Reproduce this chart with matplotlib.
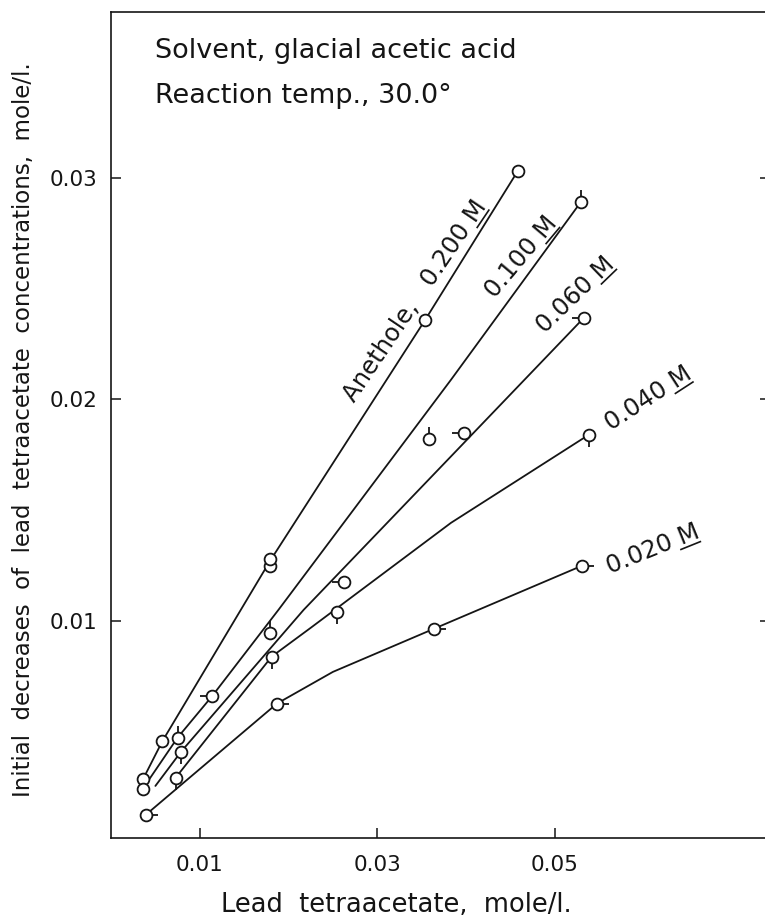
"""Initial decrease of lead tetraacetate vs its concentration, for several
anethole concentrations (glacial acetic acid, 30.0 deg)."""
import numpy as np
import matplotlib.pyplot as plt
from matplotlib.path import Path

plt.rcParams["font.family"] = ["DejaVu Sans"]

# anethole concentrations, one curve each
conc = ["0.200", "0.100", "0.060", "0.040", "0.020"]

# measured points (lead tetraacetate, initial decrease), mole/l.
pts_x_200 = [0.0036, 0.0058, 0.0179, 0.0179, 0.0354, 0.0458]
pts_y_200 = [0.00285, 0.00458, 0.0125, 0.0128, 0.0236, 0.0303]
pts_x_100 = [0.0036, 0.0075, 0.0179, 0.0358, 0.0529]
pts_y_100 = [0.00243, 0.00473, 0.00947, 0.0182, 0.0289]
pts_x_060 = [0.0114, 0.0263, 0.0398, 0.0533]
pts_y_060 = [0.00661, 0.01175, 0.0185, 0.0237]
pts_x_040 = [0.0073, 0.0079, 0.0181, 0.0255, 0.0538]
pts_y_040 = [0.00293, 0.0041, 0.00839, 0.0104, 0.0184]
pts_x_020 = [0.0039, 0.0187, 0.0364, 0.0531]
pts_y_020 = [0.00124, 0.00627, 0.00965, 0.0125]

# hand-drawn curves
crv_x_200 = [0.0036, 0.0058, 0.0179, 0.0354, 0.0458]
crv_y_200 = [0.00285, 0.00458, 0.0127, 0.0236, 0.0303]
crv_x_100 = [0.0038, 0.0075, 0.0114, 0.0189, 0.0383, 0.0529]
crv_y_100 = [0.00255, 0.00473, 0.00661, 0.01052, 0.02089, 0.0289]
crv_x_060 = [0.0050, 0.0079, 0.0217, 0.0383, 0.0533]
crv_y_060 = [0.00255, 0.0041, 0.0105, 0.01743, 0.0237]
crv_x_040 = [0.0073, 0.0181, 0.0225, 0.0383, 0.0538]
crv_y_040 = [0.00293, 0.00839, 0.00969, 0.01443, 0.0184]
crv_x_020 = [0.0039, 0.0187, 0.0250, 0.0364, 0.0531]
crv_y_020 = [0.00124, 0.00627, 0.0077, 0.00965, 0.0125]

pts = {
    "0.200": (pts_x_200, pts_y_200),
    "0.100": (pts_x_100, pts_y_100),
    "0.060": (pts_x_060, pts_y_060),
    "0.040": (pts_x_040, pts_y_040),
    "0.020": (pts_x_020, pts_y_020),
}
crv = {
    "0.200": (crv_x_200, crv_y_200),
    "0.100": (crv_x_100, crv_y_100),
    "0.060": (crv_x_060, crv_y_060),
    "0.040": (crv_x_040, crv_y_040),
    "0.020": (crv_x_020, crv_y_020),
}

# each series marks its circles with a small pip in one direction
pip_dir = {"0.200": None, "0.100": (0, 1), "0.060": (-1, 0),
           "0.040": (0, -1), "0.020": (1, 0)}

# curve labels: centre (x, y) and angle in degrees
lab_pos = {
    "0.200": (0.0341, 0.0245, 56),
    "0.100": (0.0461, 0.0265, 50),
    "0.060": (0.0522, 0.0248, 44),
    "0.040": (0.0604, 0.0201, 33),
    "0.020": (0.0610, 0.0133, 22),
}
LAB_FS = 17.5
ink = "#151515"


def pip_marker(d):
    dx, dy = d
    return Path([(0.48 * dx, 0.48 * dy), (dx, dy)], [Path.MOVETO, Path.LINETO])


fig = plt.figure(figsize=(7.65, 9.24), dpi=100)
ax = fig.add_axes([0.1451, 0.0931, 0.861, 0.894])
ax.set_xlim(0, 0.0742)
ax.set_ylim(0.0002, 0.0375)

for c in conc:
    cx, cy = crv[c]
    ax.plot(cx, cy, color=ink, lw=1.3, zorder=2, solid_capstyle="round")
    px, py = pts[c]
    ax.plot(px, py, ls="none", marker="o", ms=8.5, mfc="white", mec=ink,
            mew=1.3, zorder=4)
    if pip_dir[c] is not None:
        ax.plot(px, py, ls="none", marker=pip_marker(pip_dir[c]), ms=17,
                mfc="none", mec=ink, mew=1.3, zorder=3)


# rotated curve labels with an underlined M (molar)
renderer = fig.canvas.get_renderer()


def text_width(s, fs):
    t = ax.text(0, 0, s, fontsize=fs)
    w = t.get_window_extent(renderer).width
    t.remove()
    return w


to_data = ax.transData.inverted()
em = LAB_FS * fig.dpi / 72
for c in conc:
    lx, ly, ang = lab_pos[c]
    txt = f"{c} M" if c != "0.200" else f"Anethole,   {c} M"
    w_all = text_width(txt, LAB_FS)
    w_m = text_width("M", LAB_FS)
    a = np.deg2rad(ang)
    u = np.array([np.cos(a), np.sin(a)])
    n = np.array([-np.sin(a), np.cos(a)])
    ctr = ax.transData.transform((lx, ly))
    anchor = ctr - u * w_all / 2 - n * 0.36 * em
    ax.text(*to_data.transform(anchor), txt, rotation=ang,
            rotation_mode="anchor", ha="left", va="baseline",
            fontsize=LAB_FS, color=ink)
    p0 = anchor + u * (w_all - w_m - 0.1 * em) - n * 0.14 * em
    p1 = anchor + u * (w_all - 0.1 * em) - n * 0.14 * em
    seg = to_data.transform(np.array([p0, p1]))
    ax.plot(seg[:, 0], seg[:, 1], color=ink, lw=1.2)

ax.text(0.067, 0.944, "Solvent, glacial acetic acid", transform=ax.transAxes,
        fontsize=19.5, va="baseline", ha="left", color=ink)
ax.text(0.067, 0.890, "Reaction temp., 30.0\u00b0", transform=ax.transAxes,
        fontsize=19.5, va="baseline", ha="left", color=ink)

ax.set_xticks([0.01, 0.03, 0.05])
ax.set_xticklabels(["0.01", "0.03", "0.05"])
ax.set_yticks([0.01, 0.02, 0.03])
ax.set_yticklabels(["0.01", "0.02", "0.03"])
ax.tick_params(axis="x", direction="in", length=7, width=1.1, pad=12,
               labelsize=15.5, colors=ink)
ax.tick_params(axis="y", direction="in", length=7, width=1.1, pad=10,
               labelsize=15.5, colors=ink, right=True, labelright=False)
for s in ax.spines.values():
    s.set_linewidth(1.2)
    s.set_color(ink)

fig.text(396 / 765, 1 - 912 / 924, "Lead  tetraacetate,  mole/l.",
         ha="center", va="baseline", fontsize=18.5, color=ink)
fig.text(24 / 765, 1 - 430 / 924,
         "Initial  decreases  of  lead  tetraacetate  concentrations,  mole/l.",
         rotation=90, ha="center", va="center", fontsize=16.5, color=ink)

fig.savefig("out.png", dpi=100)
